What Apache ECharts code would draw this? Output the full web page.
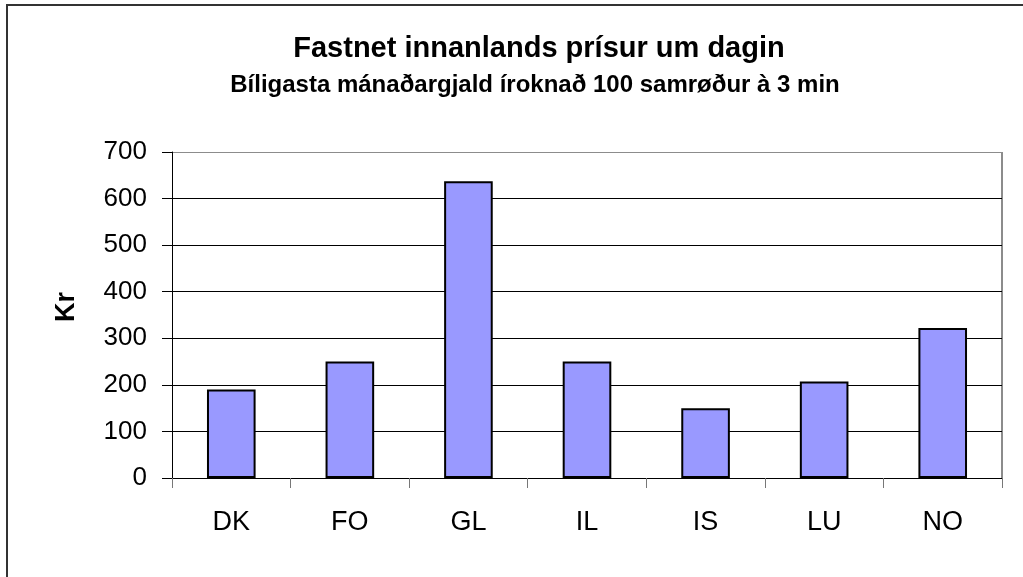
<!DOCTYPE html>
<html>
<head>
<meta charset="utf-8">
<script src="https://cdn.jsdelivr.net/npm/echarts@6/dist/echarts.min.js"></script>
<style>
    html, body { margin: 0; padding: 0; background: #fff; }
    #main { width: 1023px; height: 577px; }
</style>
</head>
<body>
<div id="main"></div>
<script type="text/javascript">
    // data
    var countries = ['DK', 'FO', 'GL', 'IL', 'IS', 'LU', 'NO'];
    var prices = [190, 250, 637, 250, 150, 207, 322];
    var yTicks = [0, 100, 200, 300, 400, 500, 600, 700];

    var titleText = 'Fastnet innanlands prísur um dagin';
    var subText = 'Bíligasta mánaðargjald íroknað 100 samrøður à 3 min';
    var font = '"Liberation Sans", Arial, sans-serif';

    var myChart = echarts.init(document.getElementById('main'));

    // gridlines black, the top one is the grey plot border
    var gridColors = yTicks.map(function (v, i) {
        return i === yTicks.length - 1 ? '#8c8c8c' : '#000';
    });

    var option = {
        backgroundColor: '#fff',
        animation: false,
        textStyle: { fontFamily: font },
        title: [
            {
                text: titleText,
                left: 534, top: 29, textAlign: 'center',
                textStyle: { fontFamily: font, fontSize: 29, fontWeight: 'bold', color: '#000' }
            },
            {
                text: subText,
                left: 530, top: 68, textAlign: 'center',
                textStyle: { fontFamily: font, fontSize: 24, fontWeight: 'bold', color: '#000' }
            }
        ],
        graphic: [
            {
                type: 'rect',
                shape: { x: 7, y: 5, width: 1100, height: 700 },
                style: { fill: null, stroke: '#333', lineWidth: 2 },
                silent: true
            },
            {
                type: 'line',
                shape: { x1: 1002, y1: 152, x2: 1002, y2: 478 },
                style: { stroke: '#8c8c8c', lineWidth: 2 },
                silent: true
            }
        ],
        grid: { left: 172, top: 152, right: 21, bottom: 99 },
        xAxis: {
            type: 'category',
            data: countries,
            axisLine: { lineStyle: { color: '#000', width: 1 } },
            axisTick: { show: true, alignWithLabel: false, length: 10, lineStyle: { color: '#777' } },
            axisLabel: { margin: 31, fontSize: 27, color: '#000', fontFamily: font }
        },
        yAxis: {
            type: 'value',
            min: 0, max: 700, interval: 100,
            name: 'Kr',
            nameLocation: 'middle',
            nameGap: 92,
            nameTextStyle: {
                fontSize: 27, fontWeight: 'bold', color: '#000', fontFamily: font,
                padding: [0, 0, 0, 16]
            },
            axisLine: { show: true, lineStyle: { color: '#000', width: 1 } },
            axisTick: { show: true, length: 10, lineStyle: { color: '#000' } },
            axisLabel: { margin: 25, fontSize: 26, color: '#000', fontFamily: font },
            splitLine: { show: true, lineStyle: { color: gridColors, width: 1 } }
        },
        series: [
            {
                type: 'bar',
                data: prices,
                barWidth: '41%',
                itemStyle: { color: '#9999ff', borderColor: '#000', borderWidth: 2 }
            }
        ]
    };

    myChart.setOption(option);
</script>
</body>
</html>
